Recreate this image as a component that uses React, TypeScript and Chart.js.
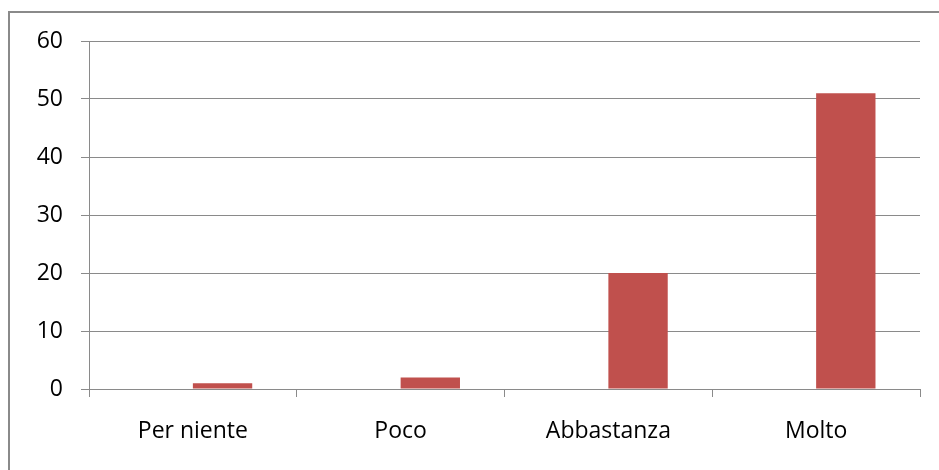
import React, { useEffect, useRef } from "react";
import { Chart, registerables } from "chart.js";

Chart.register(...registerables);

const categories = ["Per niente", "Poco", "Abbastanza", "Molto"];
const hiddenSeries: (number | null)[] = [null, null, null, null];
const values = [1, 2, 20, 51];
const yMin = 0;
const yMax = 60;
const yStep = 10;

const GRID = "#8a8a8a";
const BAR = "#C0504D";
const FONT = { family: "'Open Sans', sans-serif", size: 23 };

export default function App() {
  const ref = useRef<HTMLCanvasElement | null>(null);
  useEffect(() => {
    if (!ref.current) return;
    const chart = new Chart(ref.current, {
      type: "bar",
      data: {
        labels: categories,
        datasets: [
          { label: "A", data: hiddenSeries, backgroundColor: "#4F81BD", borderWidth: 0 },
          { label: "B", data: values, backgroundColor: BAR, borderWidth: 0 },
        ],
      },
      options: {
        animation: false,
        responsive: false,
        maintainAspectRatio: false,
        layout: { padding: { left: 0, top: 41, right: 19, bottom: 0 } },
        plugins: { legend: { display: false }, tooltip: { enabled: false } },
        datasets: { bar: { categoryPercentage: 2 / 3.5, barPercentage: 1 } },
        scales: {
          x: {
            offset: true,
            grid: { drawOnChartArea: false, drawTicks: true, tickLength: 8, color: GRID, offset: true },
            border: { display: true, color: GRID },
            ticks: { color: "#000", font: FONT, padding: 21 },
            afterFit: (s: any) => { s.height = 81; },
          },
          y: {
            min: yMin,
            max: yMax,
            ticks: { stepSize: yStep, color: "#000", font: FONT, padding: 18 },
            grid: { color: GRID, tickLength: 8, drawTicks: true },
            border: { display: true, color: GRID },
            afterFit: (s: any) => { s.width = 89; },
          },
        },
      },
    });
    return () => chart.destroy();
  }, []);
  return (
    <div style={{ position: "fixed", left: 0, top: 0, width: 939, height: 470, background: "#fff", overflow: "hidden" }}>
      <div style={{ position: "absolute", left: 8, top: 11, width: 1200, height: 1200, border: "2px solid #8a8a8a", boxSizing: "border-box" }} />
      <canvas ref={ref} width={939} height={470} style={{ position: "absolute", left: 0, top: 0 }} />
    </div>
  );
}
